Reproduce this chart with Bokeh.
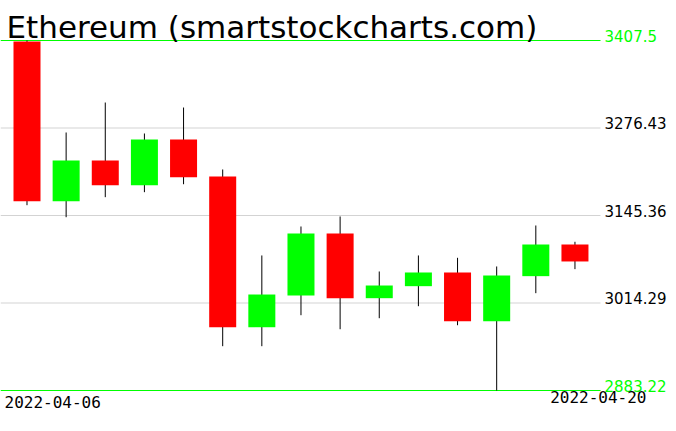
from bokeh.plotting import figure
from bokeh.models import Range1d, Label, ColumnDataSource
from bokeh.core.properties import value
from bokeh.embed import file_html
from bokeh.resources import INLINE

dates = ["2022-04-06", "2022-04-07", "2022-04-08", "2022-04-09", "2022-04-10",
         "2022-04-11", "2022-04-12", "2022-04-13", "2022-04-14", "2022-04-15",
         "2022-04-16", "2022-04-17", "2022-04-18", "2022-04-19", "2022-04-20"]
opens = [3406.0, 3166.8, 3227.8, 3190.8, 3259.2, 3203.8, 2978.0, 3025.5,
         3118.4, 3021.5, 3039.5, 3060.0, 2987.0, 3054.5, 3101.9]
highs = [3407.5, 3269.7, 3314.6, 3268.2, 3307.1, 3214.3, 3085.5, 3128.9,
         3143.9, 3061.5, 3085.5, 3082.0, 3069.0, 3130.4, 3106.0]
lows = [3160.8, 3142.8, 3172.8, 3180.3, 3192.2, 2949.6, 2949.6, 2996.0,
        2975.0, 2991.5, 3009.5, 2981.0, 2883.22, 3029.0, 3065.0]
closes = [3166.8, 3227.8, 3190.8, 3259.2, 3202.7, 2978.0, 3027.0, 3118.4,
          3021.5, 3040.5, 3060.0, 2987.0, 3055.5, 3101.9, 3076.5]
level_labels = ["2883.22", "3014.29", "3145.36", "3276.43", "3407.5"]
title_text = "Ethereum (smartstockcharts.com)"

W, H = 668, 423
PX = 39.14  # pixels per day slot
x0 = -0.677
x1 = x0 + W / PX
y_top = 3467.42
y_bot = y_top - H * 1.49794


def x_at(px):
    return x0 + px / PX


lo, hi = min(lows), max(highs)
levels = [lo + k * (hi - lo) / 4 for k in range(5)]
level_colors = ["#00ff00", "#000000", "#000000", "#000000", "#00ff00"]
line_colors = ["#00ff00", "#d3d3d3", "#d3d3d3", "#d3d3d3", "#00ff00"]

idx = list(range(len(dates)))
colors = ["#00ff00" if c > o else "#ff0000" for o, c in zip(opens, closes)]
src = ColumnDataSource(dict(x=idx, o=opens, h=highs, l=lows, c=closes,
                            top=[max(o, c) for o, c in zip(opens, closes)],
                            bot=[min(o, c) for o, c in zip(opens, closes)],
                            color=colors))

p = figure(width=W, height=H, output_backend="svg", toolbar_location=None,
           x_range=Range1d(x0, x1), y_range=Range1d(y_bot, y_top),
           x_axis_location=None, y_axis_location=None, min_border=0)
p.outline_line_color = None
p.grid.visible = False
p.background_fill_color = "white"
p.border_fill_color = "white"

lsrc = ColumnDataSource(dict(x0=[x0] * 5, x1=[x_at(600)] * 5, y=levels,
                             lc=line_colors, tc=level_colors,
                             tx=[x_at(604)] * 5, txt=level_labels))
p.segment(x0="x0", y0="y", x1="x1", y1="y", line_color="lc", line_width=1,
          source=lsrc)
p.text(x="tx", y="y", text="txt", text_color="tc", text_font=value("DejaVu Sans"),
       text_font_size="15px", text_baseline="middle", y_offset=-5, source=lsrc)

p.segment(x0="x", y0="l", x1="x", y1="h", line_color="black", line_width=1,
          source=src)
p.vbar(x="x", width=0.69, top="top", bottom="bot", fill_color="color",
       line_color=None, source=src)

p.add_layout(Label(x=6, y=H - 26, x_units="screen", y_units="screen",
                   text=title_text, text_font="DejaVu Sans",
                   text_font_size="31px", text_color="black",
                   text_baseline="middle"))
p.add_layout(Label(x=4, y=H - 401.5, x_units="screen", y_units="screen",
                   text=dates[0], text_font="DejaVu Sans Mono",
                   text_font_size="16px", text_color="black",
                   text_baseline="middle"))
p.add_layout(Label(x=646, y=H - 396, x_units="screen", y_units="screen",
                   text=dates[-1], text_font="DejaVu Sans Mono",
                   text_font_size="16px", text_color="black",
                   text_align="right", text_baseline="middle"))

open("out.html", "w").write(file_html(p, INLINE))
